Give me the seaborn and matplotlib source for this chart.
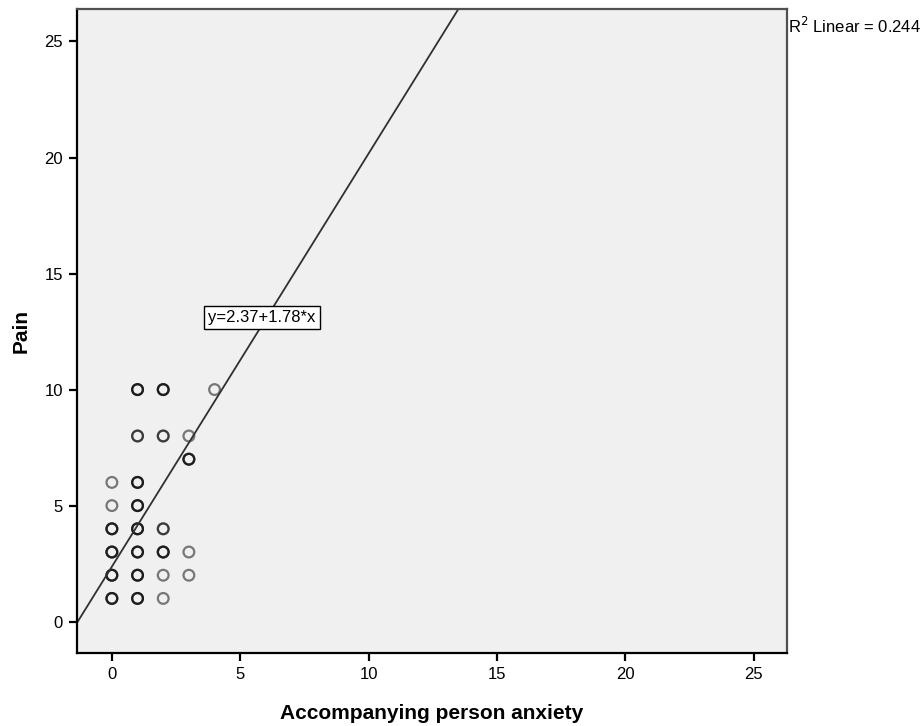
import matplotlib
matplotlib.use('Agg')
import matplotlib.pyplot as plt
import numpy as np
import pandas as pd
import seaborn as sns

sns.set_style('white')
plt.rcParams['font.family'] = ['Liberation Sans', 'DejaVu Sans']
plt.rcParams['text.color'] = 'black'
plt.rcParams['axes.labelcolor'] = 'black'
plt.rcParams['xtick.color'] = 'black'
plt.rcParams['ytick.color'] = 'black'

# points, with a rough overlap count (darker rings = more cases)
anxiety = [0, 0, 0, 0, 0, 0,
           1, 1, 1, 1, 1, 1, 1, 1,
           2, 2, 2, 2, 2, 2,
           3, 3, 3, 3,
           4]
pain = [1, 2, 3, 4, 5, 6,
        1, 2, 3, 4, 5, 6, 8, 10,
        1, 2, 3, 4, 8, 10,
        2, 3, 7, 8,
        10]
cases = [3, 3, 3, 3, 1, 1,
         3, 3, 3, 3, 3, 3, 2, 3,
         1, 1, 3, 2, 2, 3,
         1, 1, 3, 1,
         1]

intercept = 2.37
slope = 1.78
r2 = 0.244

df = pd.DataFrame({'anxiety': anxiety, 'pain': pain, 'cases': cases})
df = df.loc[df.index.repeat(df['cases'])].reset_index(drop=True)

fig = plt.figure(figsize=(9.24, 7.26), dpi=100)
ax = fig.add_axes([0.0833, 0.1006, 0.7684, 0.887])
ax.set_facecolor('#f0f0f0')

sns.scatterplot(data=df, x='anxiety', y='pain', ax=ax, marker='o',
                s=60, facecolor='none', edgecolor='black', linewidth=1.6,
                alpha=0.5, legend=False)

ax.axline((0, intercept), slope=slope, color='#303030', linewidth=1.3)

ax.set_xlim(-1.36, 26.3)
ax.set_ylim(-1.35, 26.4)
ax.set_xticks([0, 5, 10, 15, 20, 25])
ax.set_yticks([0, 5, 10, 15, 20, 25])
ax.tick_params(axis='both', direction='out', length=6, width=1.6,
               labelsize=12, color='black', pad=4, left=True, bottom=True)
for side in ['left', 'bottom']:
    ax.spines[side].set_color('black')
    ax.spines[side].set_linewidth(1.6)
for side in ['top', 'right']:
    ax.spines[side].set_color('#505050')
    ax.spines[side].set_linewidth(1.6)

ax.set_xlabel('Accompanying person anxiety', fontsize=15, fontweight='bold', labelpad=16)
ax.set_ylabel('Pain', fontsize=15, fontweight='bold', labelpad=10)

ax.text(3.75, 13.1, 'y=%.2f+%.2f*x' % (intercept, slope), fontsize=12,
        ha='left', va='center', zorder=5,
        bbox=dict(boxstyle='square,pad=0.25', facecolor='white', edgecolor='black', linewidth=1.0))

ax.text(1.002, 0.99, r'R$^2$ Linear = %.3f' % r2, transform=ax.transAxes,
        fontsize=12, ha='left', va='top')

plt.savefig('out.png', dpi=100)
